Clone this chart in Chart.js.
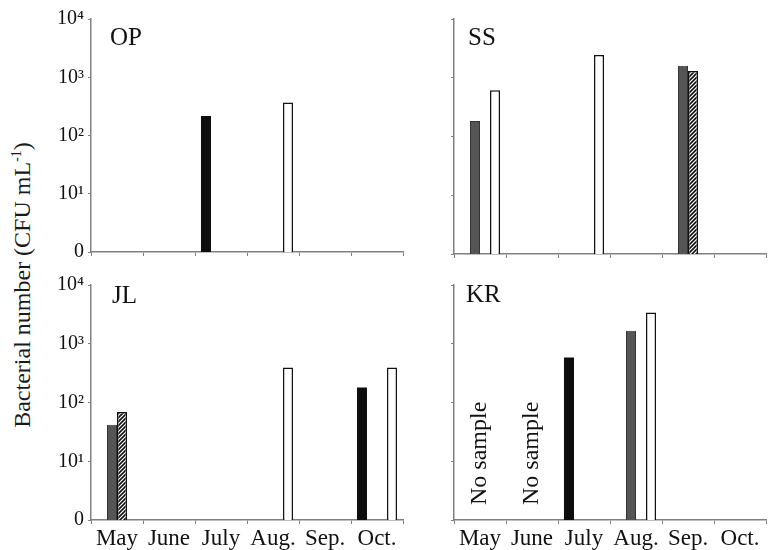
<!DOCTYPE html>
<html>
<head>
<meta charset="utf-8">
<script src="https://cdn.jsdelivr.net/npm/chart.js@4.4.1/dist/chart.umd.min.js"></script>
<style>
html, body { margin: 0; padding: 0; background: #fff; }
#wrap { position: relative; width: 772px; height: 550px; overflow: hidden; }
#wrap canvas { position: absolute; }
#ytitle {
    position: absolute; left: 22px; top: 285px;
    transform: translate(-50%, -50%) rotate(-90deg);
    font: 24px "Liberation Serif", "Times New Roman", serif;
    color: #1a1a1a; white-space: nowrap;
}
#ytitle sup { font-size: 14px; }
</style>
</head>
<body>
<div id="wrap">
    <div id="ytitle">Bacterial number (CFU mL<sup>-1</sup>)</div>
    <canvas id="op" width="410" height="268" style="left:0;top:0"></canvas>
    <canvas id="ss" width="362" height="268" style="left:410px;top:0"></canvas>
    <canvas id="jl" width="410" height="282" style="left:0;top:268px"></canvas>
    <canvas id="kr" width="362" height="282" style="left:410px;top:268px"></canvas>
</div>
<script>
// ============ Data (CFU mL-1, null = not detected) ============
const months = ['May', 'June', 'July', 'Aug.', 'Sep.', 'Oct.'];
const yTicks = [1, 10, 100, 1000, 10000];

const opBlack   = [null, null, 217, null, null, null];
const opGray    = [null, null, null, null, null, null];
const opHatched = [null, null, null, null, null, null];
const opWhite   = [null, null, null, 367, null, null];

const ssBlack   = [null, null, null, null, null, null];
const ssGray    = [184, null, null, null, 1600, null];
const ssHatched = [null, null, null, null, 1300, null];
const ssWhite   = [611, null, 2440, null, null, null];

const jlBlack   = [null, null, null, null, null, 180];
const jlGray    = [42, null, null, null, null, null];
const jlHatched = [69, null, null, null, null, null];
const jlWhite   = [null, null, null, 395, null, 395];

const krBlack   = [null, null, 585, null, null, null];
const krGray    = [null, null, null, 1660, null, null];
const krHatched = [null, null, null, null, null, null];
const krWhite   = [null, null, null, 3410, null, null];
const krNoSample = ['May', 'June'];

// ============ Styles ============
const SERIF = '"Liberation Serif", "Times New Roman", serif';
const AXIS = '#808080';
const INK = '#111';
const SUP = { 1: '\u00b9', 2: '\u00b2', 3: '\u00b3', 4: '\u2074' };

function hatch() {
    const c = document.createElement('canvas');
    c.width = 4; c.height = 4;
    const g = c.getContext('2d');
    g.fillStyle = '#fff'; g.fillRect(0, 0, 4, 4);
    g.strokeStyle = INK; g.lineWidth = 1.6;
    g.beginPath();
    g.moveTo(0, 4); g.lineTo(4, 0);
    g.moveTo(-1, 1); g.lineTo(1, -1);
    g.moveTo(3, 5); g.lineTo(5, 3);
    g.stroke();
    return g.createPattern(c, 'repeat');
}
const hatchFill = hatch();

// site name + "No sample" notes
const panelText = {
    id: 'panelText',
    afterDraw(chart, args, o) {
        const { ctx, chartArea, scales } = chart;
        ctx.save();
        ctx.fillStyle = INK;
        ctx.textBaseline = 'alphabetic';
        ctx.font = '25px ' + SERIF;
        ctx.fillText(o.name, chartArea.left + o.dx, chartArea.top + o.dy);
        (o.noSample || []).forEach(m => {
            const x = scales.x.getPixelForValue(months.indexOf(m));
            ctx.save();
            ctx.translate(x, chartArea.bottom - 15);
            ctx.rotate(-Math.PI / 2);
            ctx.font = '24px ' + SERIF;
            ctx.textBaseline = 'middle';
            ctx.textAlign = 'left';
            ctx.fillText('No sample', 0, 0);
            ctx.restore();
        });
        ctx.restore();
    }
};

function panel(id, s, o) {
    return new Chart(document.getElementById(id), {
        type: 'bar',
        data: {
            labels: months,
            datasets: [
                { data: s.black, backgroundColor: '#0d0d0d', borderWidth: 0 },
                { data: s.gray, backgroundColor: '#555', borderColor: '#333', borderWidth: 1 },
                { data: s.hatched, backgroundColor: hatchFill, borderColor: INK, borderWidth: 1.5 },
                { data: s.white, backgroundColor: '#fff', borderColor: INK, borderWidth: 1.5 }
            ]
        },
        options: {
            responsive: false,
            animation: false,
            layout: { padding: { top: o.top, right: o.right, left: 0, bottom: 0 } },
            datasets: { bar: { categoryPercentage: 0.77, barPercentage: 1 } },
            plugins: {
                legend: { display: false },
                tooltip: { enabled: false },
                panelText: { name: o.name, dx: o.dx, dy: o.dy, noSample: o.noSample }
            },
            scales: {
                x: {
                    grid: { drawOnChartArea: false, drawTicks: true, tickLength: 4, color: AXIS, offset: true },
                    border: { color: AXIS, width: 1.5 },
                    ticks: { display: o.showX, color: INK, padding: 1, font: { family: SERIF, size: 23 } },
                    afterFit(sc) { sc.height = o.xh; }
                },
                y: {
                    type: 'logarithmic',
                    min: 1, max: 10000,
                    afterBuildTicks(sc) { sc.ticks = yTicks.map(v => ({ value: v })); },
                    grid: { drawOnChartArea: false, drawTicks: true, tickLength: 3, color: AXIS },
                    border: { color: AXIS, width: 1.5 },
                    ticks: {
                        display: o.showY, color: INK, padding: 4,
                        font: { family: SERIF, size: 20 },
                        callback(v) {
                            const e = Math.round(Math.log10(v));
                            return e === 0 ? '0' : '10' + SUP[e];
                        }
                    },
                    afterFit(sc) { sc.width = o.yw; }
                }
            }
        },
        plugins: [panelText]
    });
}

panel('op', { black: opBlack, gray: opGray, hatched: opHatched, white: opWhite },
    { name: 'OP', dx: 19, dy: 26, top: 19, right: 7, yw: 91, xh: 14, showX: false, showY: true });
panel('ss', { black: ssBlack, gray: ssGray, hatched: ssHatched, white: ssWhite },
    { name: 'SS', dx: 14, dy: 26, top: 19, right: 6, yw: 44, xh: 14, showX: false, showY: false });
panel('jl', { black: jlBlack, gray: jlGray, hatched: jlHatched, white: jlWhite },
    { name: 'JL', dx: 21, dy: 18, top: 17, right: 7, yw: 91, xh: 30, showX: true, showY: true });
panel('kr', { black: krBlack, gray: krGray, hatched: krHatched, white: krWhite },
    { name: 'KR', dx: 12, dy: 17, top: 17, right: 6, yw: 44, xh: 30, showX: true, showY: false, noSample: krNoSample });
</script>
</body>
</html>
